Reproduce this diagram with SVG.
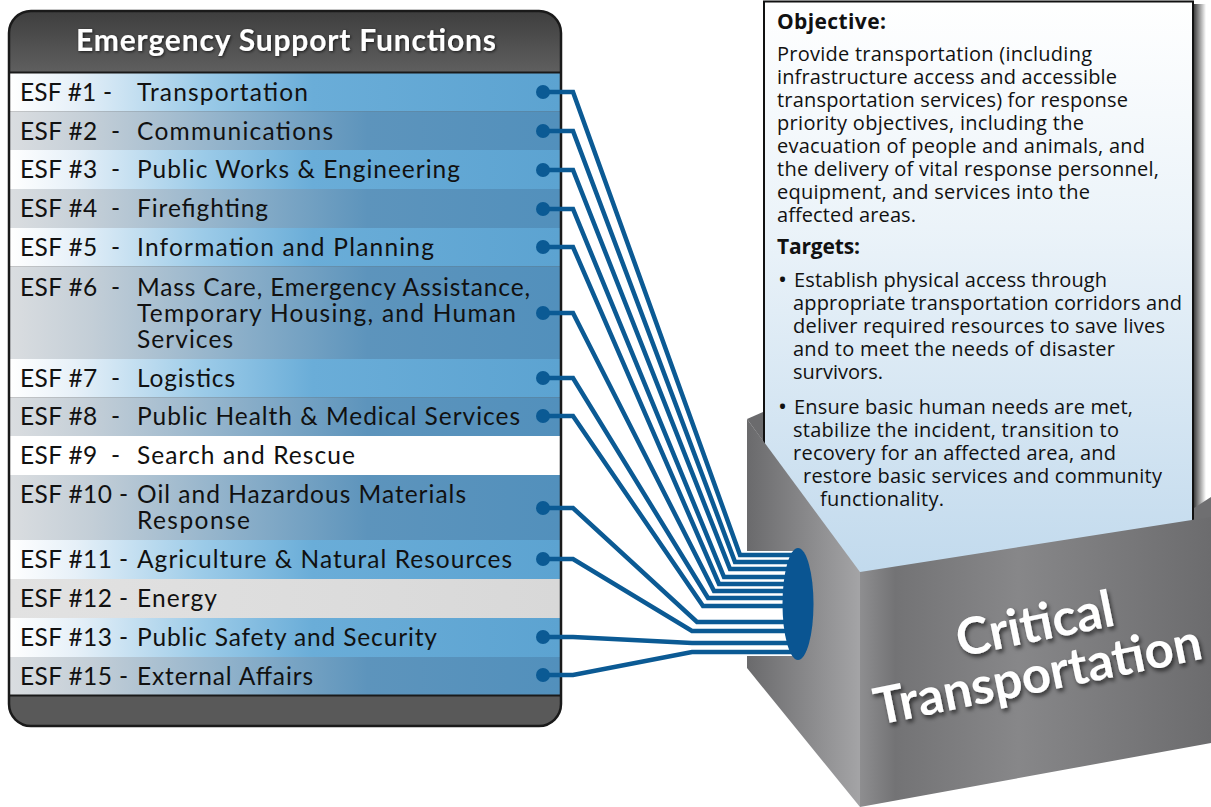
<svg xmlns="http://www.w3.org/2000/svg" width="1211" height="807" viewBox="0 0 1211 807">
<defs>
  <linearGradient id="hdr" x1="0" y1="0" x2="0" y2="1">
    <stop offset="0" stop-color="#3e3e3e"/>
    <stop offset="1" stop-color="#5f5f5f"/>
  </linearGradient>
  <linearGradient id="gL" x1="0" y1="0" x2="1" y2="0">
    <stop offset="0" stop-color="#ffffff"/>
    <stop offset="0.12" stop-color="#e6f0f8"/>
    <stop offset="0.35" stop-color="#9ccbe8"/>
    <stop offset="0.55" stop-color="#6aadd8"/>
    <stop offset="1" stop-color="#5ca3d1"/>
  </linearGradient>
  <linearGradient id="gD" x1="0" y1="0" x2="1" y2="0">
    <stop offset="0" stop-color="#dadde0"/>
    <stop offset="0.15" stop-color="#c3ced7"/>
    <stop offset="0.4" stop-color="#8fb1ca"/>
    <stop offset="0.65" stop-color="#5d94bc"/>
    <stop offset="1" stop-color="#5290bc"/>
  </linearGradient>
  <linearGradient id="gG" x1="0" y1="0" x2="1" y2="0">
    <stop offset="0" stop-color="#e2e2e2"/>
    <stop offset="1" stop-color="#d8d8d8"/>
  </linearGradient>
  <linearGradient id="card" x1="0" y1="0" x2="0" y2="570" gradientUnits="userSpaceOnUse">
    <stop offset="0" stop-color="#ffffff"/>
    <stop offset="0.4" stop-color="#ebf3f9"/>
    <stop offset="1" stop-color="#c2daed"/>
  </linearGradient>
  <linearGradient id="shadowR" x1="0" y1="0" x2="1" y2="0">
    <stop offset="0" stop-color="#000" stop-opacity="0.75"/>
    <stop offset="1" stop-color="#000" stop-opacity="0"/>
  </linearGradient>
  <linearGradient id="leftFace" x1="747" y1="0" x2="860" y2="0" gradientUnits="userSpaceOnUse">
    <stop offset="0" stop-color="#6a6a6c"/>
    <stop offset="1" stop-color="#a4a4a6"/>
  </linearGradient>
  <linearGradient id="frontFace" x1="860" y1="0" x2="1211" y2="0" gradientUnits="userSpaceOnUse">
    <stop offset="0" stop-color="#8e8e90"/>
    <stop offset="0.1" stop-color="#737375"/>
    <stop offset="0.45" stop-color="#878789"/>
    <stop offset="1" stop-color="#6c6c6e"/>
  </linearGradient>
  <filter id="shadow" x="-10%" y="-30%" width="120%" height="160%">
    <feDropShadow dx="2" dy="3" stdDeviation="2" flood-color="#000" flood-opacity="0.6"/>
  </filter>
  <filter id="titleShadow" x="-10%" y="-30%" width="120%" height="160%">
    <feDropShadow dx="1" dy="1" stdDeviation="1.5" flood-color="#000" flood-opacity="0.7"/>
  </filter>
</defs>
<style>
  .row { font-family: Lato, "Liberation Sans", sans-serif; font-size: 24.5px; fill: #111; }
  .title { font-family: Lato, "Liberation Sans", sans-serif; font-size: 30px; font-weight: bold; fill: #fff; }
  .ct { font-family: "Open Sans", "Liberation Sans", sans-serif; font-size: 20px; fill: #111; }
  .cth { font-family: "Open Sans", "Liberation Sans", sans-serif; font-size: 21px; font-weight: bold; fill: #111; }
  .bul { font-family: "Open Sans", "Liberation Sans", sans-serif; font-size: 24px; fill: #111; }
  .big { font-family: Lato, "Liberation Sans", sans-serif; font-size: 51px; font-weight: bold; fill: #fff; }
  .casing { fill: none; stroke: #fff; stroke-width: 8; stroke-linejoin: miter; }
  .wire { fill: none; stroke: #0b5a94; stroke-width: 4.5; stroke-linejoin: miter; }
  .dot { fill: #0b5a94; }
</style>

<!-- Left panel -->
<g id="esf-panel">
  <rect x="9" y="11" width="552" height="715" rx="22" fill="#595959"/>
  <path d="M31,11 H539 A22,22 0 0 1 561,33 V72 H9 V33 A22,22 0 0 1 31,11 Z" fill="url(#hdr)"/>
  <text class="title" x="76" y="51" textLength="420" filter="url(#titleShadow)">Emergency Support Functions</text>
</g>

<g id="esf-1">
  <rect x="10" y="72.5" width="550" height="39" fill="url(#gL)"/>
  <text class="row" x="20" y="101" textLength="92">ESF #1 -</text>
  <text class="row" x="137" y="101" textLength="171">Transportation</text>
</g>
<g id="esf-2">
  <rect x="10" y="111.5" width="550" height="39" fill="url(#gD)"/>
  <text class="row" x="20" y="140" textLength="100" xml:space="preserve">ESF #2  -</text>
  <text class="row" x="137" y="140" textLength="196">Communications</text>
</g>
<g id="esf-3">
  <rect x="10" y="150" width="550" height="39" fill="url(#gL)"/>
  <text class="row" x="20" y="178" textLength="100" xml:space="preserve">ESF #3  -</text>
  <text class="row" x="137" y="178" textLength="323">Public Works &amp; Engineering</text>
</g>
<g id="esf-4">
  <rect x="10" y="189" width="550" height="39" fill="url(#gD)"/>
  <text class="row" x="20" y="217" textLength="100" xml:space="preserve">ESF #4  -</text>
  <text class="row" x="137" y="217" textLength="131">Firefighting</text>
</g>
<g id="esf-5">
  <rect x="10" y="228" width="550" height="38.5" fill="url(#gL)"/>
  <text class="row" x="20" y="256" textLength="100" xml:space="preserve">ESF #5  -</text>
  <text class="row" x="137" y="256" textLength="297">Information and Planning</text>
</g>
<g id="esf-6">
  <rect x="10" y="266.5" width="550" height="92.5" fill="url(#gD)"/>
  <text class="row" x="20" y="296" textLength="100" xml:space="preserve">ESF #6  -</text>
  <text class="row" x="137" y="296" textLength="393">Mass Care, Emergency Assistance,</text>
  <text class="row" x="137" y="322" textLength="379">Temporary Housing, and Human</text>
  <text class="row" x="137" y="348" textLength="96">Services</text>
</g>
<g id="esf-7">
  <rect x="10" y="359" width="550" height="38.5" fill="url(#gL)"/>
  <text class="row" x="20" y="387" textLength="100" xml:space="preserve">ESF #7  -</text>
  <text class="row" x="137" y="387" textLength="98">Logistics</text>
</g>
<g id="esf-8">
  <rect x="10" y="397.5" width="550" height="38.5" fill="url(#gD)"/>
  <text class="row" x="20" y="425" textLength="100" xml:space="preserve">ESF #8  -</text>
  <text class="row" x="137" y="425" textLength="383">Public Health &amp; Medical Services</text>
</g>
<g id="esf-9">
  <rect x="10" y="436" width="550" height="39" fill="#ffffff"/>
  <text class="row" x="20" y="464" textLength="100" xml:space="preserve">ESF #9  -</text>
  <text class="row" x="137" y="464" textLength="218">Search and Rescue</text>
</g>
<g id="esf-10">
  <rect x="10" y="475" width="550" height="65" fill="url(#gD)"/>
  <text class="row" x="20" y="503" textLength="108">ESF #10 -</text>
  <text class="row" x="137" y="503" textLength="329">Oil and Hazardous Materials</text>
  <text class="row" x="137" y="529" textLength="113">Response</text>
</g>
<g id="esf-11">
  <rect x="10" y="540" width="550" height="39" fill="url(#gL)"/>
  <text class="row" x="20" y="568" textLength="108">ESF #11 -</text>
  <text class="row" x="137" y="568" textLength="375">Agriculture &amp; Natural Resources</text>
</g>
<g id="esf-12">
  <rect x="10" y="579" width="550" height="39" fill="url(#gG)"/>
  <text class="row" x="20" y="607" textLength="108">ESF #12 -</text>
  <text class="row" x="137" y="607" textLength="80">Energy</text>
</g>
<g id="esf-13">
  <rect x="10" y="618" width="550" height="39" fill="url(#gL)"/>
  <text class="row" x="20" y="646" textLength="108">ESF #13 -</text>
  <text class="row" x="137" y="646" textLength="300">Public Safety and Security</text>
</g>
<g id="esf-15">
  <rect x="10" y="657" width="550" height="38.5" fill="url(#gD)"/>
  <text class="row" x="20" y="685" textLength="108">ESF #15 -</text>
  <text class="row" x="137" y="685" textLength="176">External Affairs</text>
</g>

<g id="esf-panel-frame">
  <line x1="10" y1="72.5" x2="560" y2="72.5" stroke="#1a1a1a" stroke-width="2"/>
  <line x1="10" y1="695.5" x2="560" y2="695.5" stroke="#1a1a1a" stroke-width="2"/>
  <rect x="9" y="11" width="552" height="715" rx="22" fill="none" stroke="#1a1a1a" stroke-width="2.5"/>
</g>

<!-- Objective card -->
<g id="objective-card">
  <rect x="1194" y="4" width="12" height="510" fill="url(#shadowR)"/>
  <rect x="764" y="1" width="429" height="600" fill="url(#card)"/>
  <path d="M764,601 V1.5 H1193 V601" fill="none" stroke="#111" stroke-width="2"/>
  <text class="cth" x="777" y="29" textLength="109">Objective:</text>
  <text class="ct" x="777" y="61" textLength="315">Provide transportation (including</text>
  <text class="ct" x="777" y="84" textLength="340">infrastructure access and accessible</text>
  <text class="ct" x="777" y="107" textLength="351">transportation services) for response</text>
  <text class="ct" x="777" y="130" textLength="307">priority objectives, including the</text>
  <text class="ct" x="777" y="153" textLength="368">evacuation of people and animals, and</text>
  <text class="ct" x="777" y="176" textLength="382">the delivery of vital response personnel,</text>
  <text class="ct" x="777" y="199" textLength="313">equipment, and services into the</text>
  <text class="ct" x="777" y="222" textLength="139">affected areas.</text>
  <text class="cth" x="777" y="254" textLength="83">Targets:</text>
  <text class="bul" x="778" y="288">•</text>
  <text class="ct" x="794" y="287" textLength="313">Establish physical access through</text>
  <text class="ct" x="793" y="310" textLength="389">appropriate transportation corridors and</text>
  <text class="ct" x="793" y="333" textLength="372">deliver required resources to save lives</text>
  <text class="ct" x="793" y="356" textLength="322">and to meet the needs of disaster</text>
  <text class="ct" x="793" y="379" textLength="90">survivors.</text>
  <text class="bul" x="778" y="415">•</text>
  <text class="ct" x="794" y="414" textLength="339">Ensure basic human needs are met,</text>
  <text class="ct" x="793" y="437" textLength="326">stabilize the incident, transition to</text>
  <text class="ct" x="793" y="460" textLength="323">recovery for an affected area, and</text>
  <text class="ct" x="803" y="483" textLength="359">restore basic services and community</text>
  <text class="ct" x="820" y="506" textLength="124">functionality.</text>
</g>

<!-- Box -->
<g id="critical-transportation-box">
  <polygon points="747,419 763,412 763,441" fill="#6b6b6d"/>
  <polygon points="1194,508 1211,497 1211,518 1194,521" fill="#6f6f71"/>
  <polygon points="747,419 860,572 860,807 747,668" fill="url(#leftFace)"/>
  <polygon points="860,572 1211,517 1211,743 860,807" fill="url(#frontFace)"/>
  <g filter="url(#shadow)">
    <text class="big" transform="translate(960,657) rotate(-11.5)" textLength="160">Critical</text>
    <text class="big" transform="translate(878,725) rotate(-11.5)" textLength="333">Transportation</text>
  </g>
</g>

<!-- Connectors -->
<g id="connectors">
  <rect x="747" y="551" width="50" height="105" fill="#ffffff"/>
  <g class="casings">
    <path class="casing" d="M573,92 L740,555 H796"/>
    <path class="casing" d="M573,131 L735,562 H796"/>
    <path class="casing" d="M573,170 L730,569 H796"/>
    <path class="casing" d="M573,209 L724,577 H796"/>
    <path class="casing" d="M573,247 L719,584 H796"/>
    <path class="casing" d="M573,313 L714,591 H796"/>
    <path class="casing" d="M573,378 L708,598 H796"/>
    <path class="casing" d="M573,416 L703,606 H796"/>
    <path class="casing" d="M573,508 L697,622 H796"/>
    <path class="casing" d="M573,559 L692,631 H796"/>
    <path class="casing" d="M573,637 L692,643 H796"/>
    <path class="casing" d="M573,675 L692,652 H796"/>
  </g>
  <path id="c1" class="wire" d="M543,92 H573 L740,555 H796"/>
  <path id="c2" class="wire" d="M543,131 H573 L735,562 H796"/>
  <path id="c3" class="wire" d="M543,170 H573 L730,569 H796"/>
  <path id="c4" class="wire" d="M543,209 H573 L724,577 H796"/>
  <path id="c5" class="wire" d="M543,247 H573 L719,584 H796"/>
  <path id="c6" class="wire" d="M543,313 H573 L714,591 H796"/>
  <path id="c7" class="wire" d="M543,378 H573 L708,598 H796"/>
  <path id="c8" class="wire" d="M543,416 H573 L703,606 H796"/>
  <path id="c10" class="wire" d="M543,508 H573 L697,622 H796"/>
  <path id="c11" class="wire" d="M543,559 H573 L692,631 H796"/>
  <path id="c13" class="wire" d="M543,637 H573 L692,643 H796"/>
  <path id="c15" class="wire" d="M543,675 H573 L692,652 H796"/>
  <circle class="dot" cx="543" cy="92" r="7"/>
  <circle class="dot" cx="543" cy="131" r="7"/>
  <circle class="dot" cx="543" cy="170" r="7"/>
  <circle class="dot" cx="543" cy="209" r="7"/>
  <circle class="dot" cx="543" cy="247" r="7"/>
  <circle class="dot" cx="543" cy="313" r="7"/>
  <circle class="dot" cx="543" cy="378" r="7"/>
  <circle class="dot" cx="543" cy="416" r="7"/>
  <circle class="dot" cx="543" cy="508" r="7"/>
  <circle class="dot" cx="543" cy="559" r="7"/>
  <circle class="dot" cx="543" cy="637" r="7"/>
  <circle class="dot" cx="543" cy="675" r="7"/>
</g>

<g id="hub">
  <ellipse cx="798" cy="604" rx="15.5" ry="56" fill="#0a5592"/>
</g>
</svg>
